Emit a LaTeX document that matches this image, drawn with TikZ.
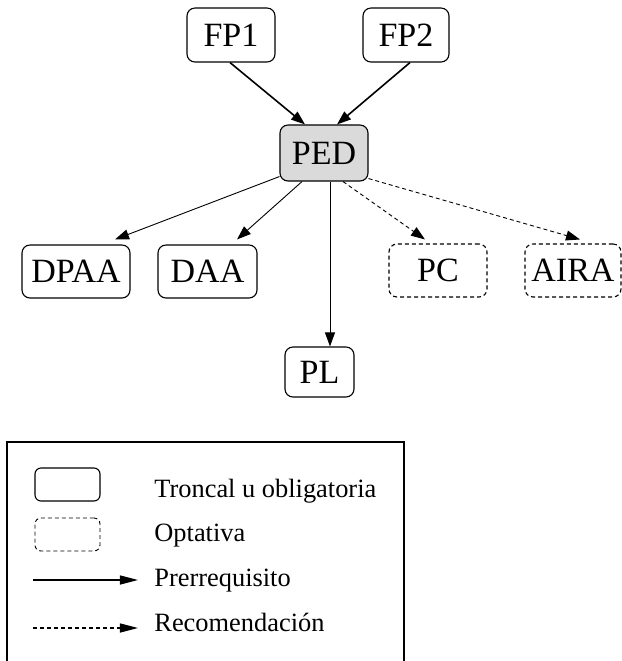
\documentclass[tikz,border=0pt]{standalone}
\usepackage{fontspec}
\setmainfont{Liberation Serif}
\usepackage{xcolor}
\usetikzlibrary{arrows.meta}

\definecolor{pedgray}{RGB}{218,218,218}

\begin{document}
\begin{tikzpicture}[x=0.5pt, y=-0.5pt, >={Triangle[length=7pt,width=5pt]},
    course/.style={draw, rounded corners=4pt, inner sep=0pt, line width=0.55pt,
        font=\fontsize{17}{20}\selectfont},
    optional/.style={course, dash pattern=on 2pt off 1.5pt},
    prereq/.style={->, line width=0.45pt},
    recom/.style={->, line width=0.45pt, dash pattern=on 2pt off 1.5pt},
    legtext/.style={anchor=base west, inner sep=0pt, font=\fontsize{13.2}{16}\selectfont}]
    \useasboundingbox (0,0) rectangle (622,661);

    % courses
    \node[course, minimum width=44pt, minimum height=27pt] (FP1) at (231,35) {FP1};
    \node[course, minimum width=43pt, minimum height=27pt] (FP2) at (406,35) {FP2};
    \node[course, fill=pedgray, minimum width=44pt, minimum height=28pt] (PED) at (324,153) {PED};
    \node[course, minimum width=54pt, minimum height=26.5pt] (DPAA) at (76,271.5) {DPAA};
    \node[course, minimum width=49.5pt, minimum height=26.5pt] (DAA) at (207.5,271.5) {DAA};
    \node[optional, minimum width=49pt, minimum height=26.5pt] (PC) at (438,270.5) {PC};
    \node[optional, minimum width=48pt, minimum height=26.5pt] (AIRA) at (573,270.5) {AIRA};
    \node[course, minimum width=34.5pt, minimum height=25pt] (PL) at (319.5,372) {PL};

    % prerequisites
    \draw[prereq, line width=0.8pt] ([xshift=-0.5pt]FP1.south) -- ([xshift=-9.5pt]PED.north);
    \draw[prereq, line width=0.8pt] ([xshift=2pt]FP2.south) -- ([xshift=6.5pt]PED.north);
    \draw[prereq] ([yshift=2.5pt]PED.south west) -- ([xshift=19.5pt,yshift=2.5pt]DPAA.north);
    \draw[prereq] ([xshift=-11pt]PED.south) -- ([xshift=14.75pt,yshift=2.5pt]DAA.north);
    \draw[prereq] ([xshift=3pt]PED.south) -- ([xshift=5.25pt]PL.north);

    % recommendations
    \draw[recom] ([xshift=9.5pt]PED.south) -- ([xshift=-6.5pt,yshift=2pt]PC.north);
    \draw[recom] ([yshift=1.5pt]PED.south east) -- ([xshift=3.5pt,yshift=2pt]AIRA.north);

    % legend
    \draw[line width=0.6pt] (7,661) -- (7,442) -- (404,442) -- (404,661);
    \node[course, rounded corners=3pt, minimum width=32.5pt, minimum height=16.5pt] (legTron) at (67.5,484.5) {};
    \node[optional, rounded corners=3pt, line width=0.45pt, minimum width=32.5pt, minimum height=16.5pt] (legOpt) at (67.5,534.5) {};
    \coordinate (preA) at (33,580);
    \coordinate (preB) at (138,580);
    \coordinate (recA) at (33,628);
    \coordinate (recB) at (138,628);
    \draw[prereq, line width=0.7pt, >={Triangle[length=9pt,width=4.5pt]}] (preA) -- (preB);
    \draw[recom, line width=0.7pt, >={Triangle[length=9pt,width=4.5pt]}] (recA) -- (recB);
    \node[legtext] (txtTron) at (154,497) {Troncal u obligatoria};
    \node[legtext] (txtOpt) at (154,541) {Optativa};
    \node[legtext] (txtPre) at (154,586) {Prerrequisito};
    \node[legtext] (txtRec) at (154,631) {Recomendación};
\end{tikzpicture}
\end{document}
